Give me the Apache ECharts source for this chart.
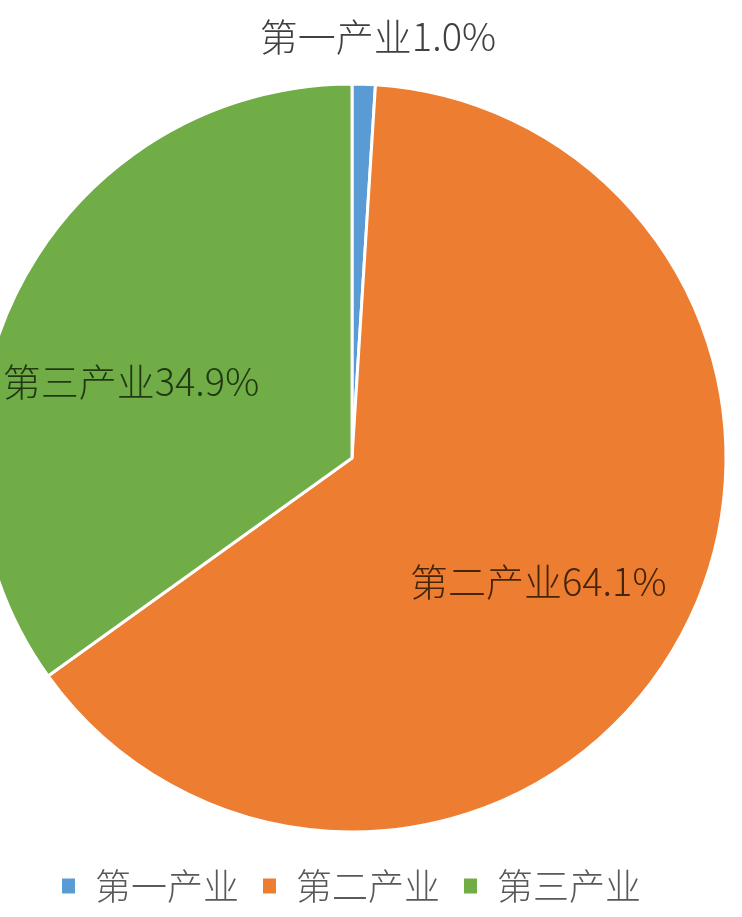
<html>
<head>
    <meta http-equiv="Content-Type" content="text/html; charset=utf-8" />
    <title>产业结构</title>
    <style>
        html, body { margin: 0; padding: 0; background: #fff; }
        #container { width: 742px; height: 917px; }
    </style>
</head>
<body>
    <div id="container"></div>
    <script src="https://cdn.jsdelivr.net/npm/echarts@6/dist/echarts.min.js"></script>
    <script type="text/javascript">
    var names = ['第一产业', '第二产业', '第三产业'];
    var values = [1.0, 64.1, 34.9];
    var colors = ['#5B9BD5', '#ED7D31', '#70AD47'];
    // where each label sits relative to its default inside spot
    var labelOffsets = [[20, -232], [20, 32], [-52, 10]];
    var labelColors = ['#404040', 'rgba(40,20,0,0.85)', 'rgba(20,35,10,0.85)'];

    var font = '"Noto Sans CJK SC", sans-serif';

    var datas = [];
    for (var i = 0; i < names.length; i++) {
        datas.push({
            name: names[i],
            value: values[i],
            itemStyle: { color: colors[i] },
            label: { offset: labelOffsets[i], color: labelColors[i] }
        });
    }

    var myChart = echarts.init(document.getElementById('container'));
    myChart.setOption({
        animation: false,
        legend: {
            bottom: 8,
            left: 55,
            itemWidth: 15,
            itemHeight: 17,
            itemGap: 22,
            icon: 'rect',
            textStyle: {
                fontSize: 36,
                fontWeight: 300,
                color: '#595959',
                fontFamily: font,
                padding: [0, 0, 0, 14]
            },
            data: names
        },
        series: [{
            type: 'pie',
            center: [352, 458],
            radius: 374,
            startAngle: 90,
            clockwise: true,
            itemStyle: { borderColor: '#fff', borderWidth: 3 },
            label: {
                show: true,
                position: 'inside',
                fontSize: 38,
                fontWeight: 300,
                fontFamily: font,
                formatter: function(p) {
                    return p.name + p.value.toFixed(1) + '%';
                }
            },
            labelLine: { show: false },
            data: datas
        }]
    });
    </script>
</body>
</html>
